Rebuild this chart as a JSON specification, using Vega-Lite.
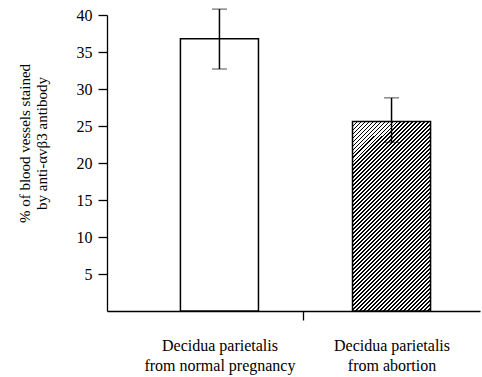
{
  "$schema": "https://vega.github.io/schema/vega-lite/v6.json",
  "width": 373,
  "height": 296,
  "autosize": "none",
  "padding": {"left": 107, "top": 15, "right": 2, "bottom": 66},
  "background": "white",
  "config": {"view": {"stroke": null}, "font": "Liberation Serif"},
  "data": {"values": [
    {"cat": "Decidua parietalis|from normal pregnancy", "value": 36.8, "lo": 32.7, "hi": 40.8},
    {"cat": "Decidua parietalis|from abortion", "value": 25.6, "lo": 22.8, "hi": 28.8}
  ]},
  "encoding": {
    "x": {
      "field": "cat", "type": "nominal", "sort": null,
      "scale": {"paddingInner": 0.5465, "paddingOuter": 0.357, "align": 0.5976},
      "axis": {
        "title": null, "labelAngle": 0, "labelExpr": "split(datum.label, '|')",
        "labelFontSize": 16, "labelColor": "black", "labelPadding": 17, "labelLineHeight": 20,
        "labelFont": "Liberation Serif",
        "tickOffset": -88.5, "labelOffset": 88.5,
        "tickOpacity": {"condition": {"test": "indexof(datum.value, 'abortion') >= 0", "value": 1}, "value": 0},
        "tickSize": 9, "tickColor": "black", "tickWidth": 1.3,
        "domainColor": "black", "domainWidth": 1.3
      }
    }
  },
  "layer": [
    {
      "mark": {"type": "bar", "stroke": "black", "strokeWidth": 1.5},
      "encoding": {
        "y": {
          "field": "value", "type": "quantitative",
          "scale": {"domain": [0, 40], "nice": false},
          "axis": {
            "values": [5, 10, 15, 20, 25, 30, 35, 40],
            "title": ["% of blood vessels stained", "by anti-αvβ3 antibody"],
            "titleFont": "Liberation Serif", "titleFontSize": 15, "titleFontWeight": "normal", "titleColor": "black",
            "titlePadding": 27, "titleLineHeight": 17, "titleY": 128,
            "labelFont": "Liberation Serif", "labelFontSize": 16, "labelColor": "black", "labelPadding": 6,
            "tickSize": 9, "tickColor": "black", "tickWidth": 1.3,
            "domainColor": "black", "domainWidth": 1.3, "grid": false
          }
        },
        "fill": {
          "condition": {
            "test": "indexof(datum.cat, 'abortion') >= 0",
            "value": {
              "gradient": "linear", "x1": 0, "y1": 0, "x2": 0.497, "y2": 1.207,
              "stops": [
{"offset":0,"color":"#000"},{"offset":0.0067,"color":"#000"},{"offset":0.0067,"color":"#fff"},{"offset":0.0149,"color":"#fff"},
{"offset":0.0149,"color":"#000"},{"offset":0.0216,"color":"#000"},{"offset":0.0216,"color":"#fff"},{"offset":0.0299,"color":"#fff"},
{"offset":0.0299,"color":"#000"},{"offset":0.0366,"color":"#000"},{"offset":0.0366,"color":"#fff"},{"offset":0.0448,"color":"#fff"},
{"offset":0.0448,"color":"#000"},{"offset":0.0515,"color":"#000"},{"offset":0.0515,"color":"#fff"},{"offset":0.0597,"color":"#fff"},
{"offset":0.0597,"color":"#000"},{"offset":0.0664,"color":"#000"},{"offset":0.0664,"color":"#fff"},{"offset":0.0746,"color":"#fff"},
{"offset":0.0746,"color":"#000"},{"offset":0.0813,"color":"#000"},{"offset":0.0813,"color":"#fff"},{"offset":0.0896,"color":"#fff"},
{"offset":0.0896,"color":"#000"},{"offset":0.0963,"color":"#000"},{"offset":0.0963,"color":"#fff"},{"offset":0.1045,"color":"#fff"},
{"offset":0.1045,"color":"#000"},{"offset":0.1112,"color":"#000"},{"offset":0.1112,"color":"#fff"},{"offset":0.1194,"color":"#fff"},
{"offset":0.1194,"color":"#000"},{"offset":0.1261,"color":"#000"},{"offset":0.1261,"color":"#fff"},{"offset":0.1343,"color":"#fff"},
{"offset":0.1343,"color":"#000"},{"offset":0.1410,"color":"#000"},{"offset":0.1410,"color":"#fff"},{"offset":0.1493,"color":"#fff"},
{"offset":0.1493,"color":"#000"},{"offset":0.1560,"color":"#000"},{"offset":0.1560,"color":"#fff"},{"offset":0.1642,"color":"#fff"},
{"offset":0.1642,"color":"#000"},{"offset":0.1709,"color":"#000"},{"offset":0.1709,"color":"#fff"},{"offset":0.1791,"color":"#fff"},
{"offset":0.1791,"color":"#000"},{"offset":0.1858,"color":"#000"},{"offset":0.1858,"color":"#fff"},{"offset":0.1940,"color":"#fff"},
{"offset":0.1940,"color":"#000"},{"offset":0.2007,"color":"#000"},{"offset":0.2007,"color":"#fff"},{"offset":0.2090,"color":"#fff"},
{"offset":0.2090,"color":"#000"},{"offset":0.2157,"color":"#000"},{"offset":0.2157,"color":"#fff"},{"offset":0.2239,"color":"#fff"},
{"offset":0.2239,"color":"#000"},{"offset":0.2306,"color":"#000"},{"offset":0.2306,"color":"#fff"},{"offset":0.2388,"color":"#fff"},
{"offset":0.2388,"color":"#000"},{"offset":0.2455,"color":"#000"},{"offset":0.2455,"color":"#fff"},{"offset":0.2537,"color":"#fff"},
{"offset":0.2537,"color":"#000"},{"offset":0.2604,"color":"#000"},{"offset":0.2604,"color":"#fff"},{"offset":0.2687,"color":"#fff"},
{"offset":0.2687,"color":"#000"},{"offset":0.2754,"color":"#000"},{"offset":0.2754,"color":"#fff"},{"offset":0.2836,"color":"#fff"},
{"offset":0.2836,"color":"#000"},{"offset":0.2903,"color":"#000"},{"offset":0.2903,"color":"#fff"},{"offset":0.2985,"color":"#fff"},
{"offset":0.2985,"color":"#000"},{"offset":0.3052,"color":"#000"},{"offset":0.3052,"color":"#fff"},{"offset":0.3134,"color":"#fff"},
{"offset":0.3134,"color":"#000"},{"offset":0.3201,"color":"#000"},{"offset":0.3201,"color":"#fff"},{"offset":0.3284,"color":"#fff"},
{"offset":0.3284,"color":"#000"},{"offset":0.3351,"color":"#000"},{"offset":0.3351,"color":"#fff"},{"offset":0.3433,"color":"#fff"},
{"offset":0.3433,"color":"#000"},{"offset":0.3500,"color":"#000"},{"offset":0.3500,"color":"#fff"},{"offset":0.3582,"color":"#fff"},
{"offset":0.3582,"color":"#000"},{"offset":0.3649,"color":"#000"},{"offset":0.3649,"color":"#fff"},{"offset":0.3731,"color":"#fff"},
{"offset":0.3731,"color":"#000"},{"offset":0.3798,"color":"#000"},{"offset":0.3798,"color":"#fff"},{"offset":0.3881,"color":"#fff"},
{"offset":0.3881,"color":"#000"},{"offset":0.3948,"color":"#000"},{"offset":0.3948,"color":"#fff"},{"offset":0.4030,"color":"#fff"},
{"offset":0.4030,"color":"#000"},{"offset":0.4097,"color":"#000"},{"offset":0.4097,"color":"#fff"},{"offset":0.4179,"color":"#fff"},
{"offset":0.4179,"color":"#000"},{"offset":0.4246,"color":"#000"},{"offset":0.4246,"color":"#fff"},{"offset":0.4328,"color":"#fff"},
{"offset":0.4328,"color":"#000"},{"offset":0.4395,"color":"#000"},{"offset":0.4395,"color":"#fff"},{"offset":0.4478,"color":"#fff"},
{"offset":0.4478,"color":"#000"},{"offset":0.4545,"color":"#000"},{"offset":0.4545,"color":"#fff"},{"offset":0.4627,"color":"#fff"},
{"offset":0.4627,"color":"#000"},{"offset":0.4694,"color":"#000"},{"offset":0.4694,"color":"#fff"},{"offset":0.4776,"color":"#fff"},
{"offset":0.4776,"color":"#000"},{"offset":0.4843,"color":"#000"},{"offset":0.4843,"color":"#fff"},{"offset":0.4925,"color":"#fff"},
{"offset":0.4925,"color":"#000"},{"offset":0.4992,"color":"#000"},{"offset":0.4992,"color":"#fff"},{"offset":0.5075,"color":"#fff"},
{"offset":0.5075,"color":"#000"},{"offset":0.5142,"color":"#000"},{"offset":0.5142,"color":"#fff"},{"offset":0.5224,"color":"#fff"},
{"offset":0.5224,"color":"#000"},{"offset":0.5291,"color":"#000"},{"offset":0.5291,"color":"#fff"},{"offset":0.5373,"color":"#fff"},
{"offset":0.5373,"color":"#000"},{"offset":0.5440,"color":"#000"},{"offset":0.5440,"color":"#fff"},{"offset":0.5522,"color":"#fff"},
{"offset":0.5522,"color":"#000"},{"offset":0.5589,"color":"#000"},{"offset":0.5589,"color":"#fff"},{"offset":0.5672,"color":"#fff"},
{"offset":0.5672,"color":"#000"},{"offset":0.5739,"color":"#000"},{"offset":0.5739,"color":"#fff"},{"offset":0.5821,"color":"#fff"},
{"offset":0.5821,"color":"#000"},{"offset":0.5888,"color":"#000"},{"offset":0.5888,"color":"#fff"},{"offset":0.5970,"color":"#fff"},
{"offset":0.5970,"color":"#000"},{"offset":0.6037,"color":"#000"},{"offset":0.6037,"color":"#fff"},{"offset":0.6119,"color":"#fff"},
{"offset":0.6119,"color":"#000"},{"offset":0.6186,"color":"#000"},{"offset":0.6186,"color":"#fff"},{"offset":0.6269,"color":"#fff"},
{"offset":0.6269,"color":"#000"},{"offset":0.6336,"color":"#000"},{"offset":0.6336,"color":"#fff"},{"offset":0.6418,"color":"#fff"},
{"offset":0.6418,"color":"#000"},{"offset":0.6485,"color":"#000"},{"offset":0.6485,"color":"#fff"},{"offset":0.6567,"color":"#fff"},
{"offset":0.6567,"color":"#000"},{"offset":0.6634,"color":"#000"},{"offset":0.6634,"color":"#fff"},{"offset":0.6716,"color":"#fff"},
{"offset":0.6716,"color":"#000"},{"offset":0.6783,"color":"#000"},{"offset":0.6783,"color":"#fff"},{"offset":0.6866,"color":"#fff"},
{"offset":0.6866,"color":"#000"},{"offset":0.6933,"color":"#000"},{"offset":0.6933,"color":"#fff"},{"offset":0.7015,"color":"#fff"},
{"offset":0.7015,"color":"#000"},{"offset":0.7082,"color":"#000"},{"offset":0.7082,"color":"#fff"},{"offset":0.7164,"color":"#fff"},
{"offset":0.7164,"color":"#000"},{"offset":0.7231,"color":"#000"},{"offset":0.7231,"color":"#fff"},{"offset":0.7313,"color":"#fff"},
{"offset":0.7313,"color":"#000"},{"offset":0.7380,"color":"#000"},{"offset":0.7380,"color":"#fff"},{"offset":0.7463,"color":"#fff"},
{"offset":0.7463,"color":"#000"},{"offset":0.7530,"color":"#000"},{"offset":0.7530,"color":"#fff"},{"offset":0.7612,"color":"#fff"},
{"offset":0.7612,"color":"#000"},{"offset":0.7679,"color":"#000"},{"offset":0.7679,"color":"#fff"},{"offset":0.7761,"color":"#fff"},
{"offset":0.7761,"color":"#000"},{"offset":0.7828,"color":"#000"},{"offset":0.7828,"color":"#fff"},{"offset":0.7910,"color":"#fff"},
{"offset":0.7910,"color":"#000"},{"offset":0.7977,"color":"#000"},{"offset":0.7977,"color":"#fff"},{"offset":0.8060,"color":"#fff"},
{"offset":0.8060,"color":"#000"},{"offset":0.8127,"color":"#000"},{"offset":0.8127,"color":"#fff"},{"offset":0.8209,"color":"#fff"},
{"offset":0.8209,"color":"#000"},{"offset":0.8276,"color":"#000"},{"offset":0.8276,"color":"#fff"},{"offset":0.8358,"color":"#fff"},
{"offset":0.8358,"color":"#000"},{"offset":0.8425,"color":"#000"},{"offset":0.8425,"color":"#fff"},{"offset":0.8507,"color":"#fff"},
{"offset":0.8507,"color":"#000"},{"offset":0.8574,"color":"#000"},{"offset":0.8574,"color":"#fff"},{"offset":0.8657,"color":"#fff"},
{"offset":0.8657,"color":"#000"},{"offset":0.8724,"color":"#000"},{"offset":0.8724,"color":"#fff"},{"offset":0.8806,"color":"#fff"},
{"offset":0.8806,"color":"#000"},{"offset":0.8873,"color":"#000"},{"offset":0.8873,"color":"#fff"},{"offset":0.8955,"color":"#fff"},
{"offset":0.8955,"color":"#000"},{"offset":0.9022,"color":"#000"},{"offset":0.9022,"color":"#fff"},{"offset":0.9104,"color":"#fff"},
{"offset":0.9104,"color":"#000"},{"offset":0.9171,"color":"#000"},{"offset":0.9171,"color":"#fff"},{"offset":0.9254,"color":"#fff"},
{"offset":0.9254,"color":"#000"},{"offset":0.9321,"color":"#000"},{"offset":0.9321,"color":"#fff"},{"offset":0.9403,"color":"#fff"},
{"offset":0.9403,"color":"#000"},{"offset":0.9470,"color":"#000"},{"offset":0.9470,"color":"#fff"},{"offset":0.9552,"color":"#fff"},
{"offset":0.9552,"color":"#000"},{"offset":0.9619,"color":"#000"},{"offset":0.9619,"color":"#fff"},{"offset":0.9701,"color":"#fff"},
{"offset":0.9701,"color":"#000"},{"offset":0.9768,"color":"#000"},{"offset":0.9768,"color":"#fff"},{"offset":0.9851,"color":"#fff"},
{"offset":0.9851,"color":"#000"},{"offset":0.9918,"color":"#000"},{"offset":0.9918,"color":"#fff"},{"offset":1,"color":"#fff"}
              ]
            }
          },
          "value": "white"
        }
      }
    },
    {
      "mark": {"type": "errorbar", "ticks": {"size": 15, "color": "black", "strokeWidth": 1.5}, "rule": {"color": "black", "strokeWidth": 1.5}},
      "encoding": {
        "y": {"field": "lo", "type": "quantitative", "title": ["% of blood vessels stained", "by anti-αvβ3 antibody"]},
        "y2": {"field": "hi"}
      }
    }
  ]
}
